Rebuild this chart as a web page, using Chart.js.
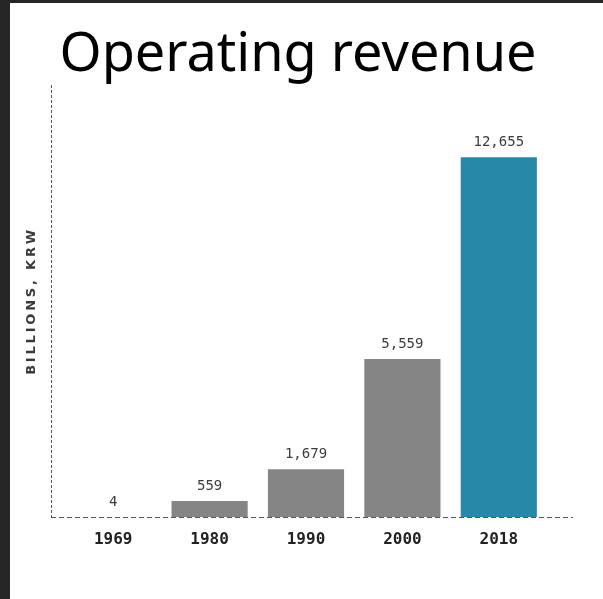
<!DOCTYPE html>
<html>
<head>
<meta charset="utf-8">
<script src="https://cdn.jsdelivr.net/npm/chart.js@4.4.1/dist/chart.umd.min.js"></script>
<style>
  html, body { margin: 0; padding: 0; background: #262626; }
  #frame {
    position: absolute; left: 10px; top: 3px;
    width: 593px; height: 596px; background: #fff;
  }
  #title {
    position: absolute; left: 0; width: 576px; top: 20px;
    text-align: center; font-family: "Noto Sans", sans-serif;
    font-size: 54px; line-height: 1; color: #000;
  }
  #wrap { position: absolute; left: 0; top: 0; width: 593px; height: 596px; }
</style>
</head>
<body>
<div id="frame">
  <div id="wrap"><canvas id="revenue"></canvas></div>
  <div id="title">Operating revenue</div>
</div>
<script>
const years = ['1969', '1980', '1990', '2000', '2018'];
const revenue = [4, 559, 1679, 5559, 12655];
const barColors = ['#858585', '#858585', '#858585', '#858585', '#2789a7'];
const axisTitle = 'BILLIONS, KRW';

// dashed axis lines, the rotated unit label and the value labels over each bar
const decorations = {
  id: 'decorations',
  beforeDatasetsDraw(chart) {
    const { ctx, chartArea: a } = chart;
    ctx.save();
    ctx.strokeStyle = '#555';
    ctx.lineWidth = 1;
    ctx.setLineDash([3, 2]);
    ctx.beginPath();
    ctx.moveTo(a.left - 13.5, a.top);
    ctx.lineTo(a.left - 13.5, a.bottom);
    ctx.stroke();
    ctx.setLineDash([5, 3]);
    ctx.beginPath();
    ctx.moveTo(a.left - 14, a.bottom + 0.5);
    ctx.lineTo(a.right + 26, a.bottom + 0.5);
    ctx.stroke();

    ctx.translate(a.left - 33, (a.top + a.bottom) / 2);
    ctx.rotate(-Math.PI / 2);
    ctx.font = '600 13px "DejaVu Sans"';
    ctx.letterSpacing = '2.8px';
    ctx.fillStyle = '#3a3a3a';
    ctx.textAlign = 'center';
    ctx.textBaseline = 'middle';
    ctx.fillText(axisTitle, 0, 0);
    ctx.restore();
  },
  afterDatasetsDraw(chart) {
    const { ctx } = chart;
    const meta = chart.getDatasetMeta(0);
    ctx.save();
    ctx.font = '14px "DejaVu Sans Mono"';
    ctx.fillStyle = '#3c3c3c';
    ctx.textAlign = 'center';
    ctx.textBaseline = 'bottom';
    meta.data.forEach((bar, i) => {
      ctx.fillText(revenue[i].toLocaleString('en-US'), bar.x, bar.y - 8);
    });
    ctx.restore();
  }
};

new Chart(document.getElementById('revenue'), {
  type: 'bar',
  data: {
    labels: years,
    datasets: [{
      data: revenue,
      backgroundColor: barColors,
      borderWidth: 0,
      barPercentage: 0.79,
      categoryPercentage: 1
    }]
  },
  options: {
    responsive: true,
    maintainAspectRatio: false,
    animation: false,
    layout: { padding: { left: 55, right: 56, top: 82, bottom: 42 } },
    plugins: {
      legend: { display: false },
      tooltip: { enabled: false }
    },
    scales: {
      x: {
        grid: { display: false, drawTicks: false },
        border: { display: false },
        ticks: {
          padding: 13,
          color: '#222',
          font: { family: '"DejaVu Sans Mono"', size: 16, weight: 'bold' }
        },
        afterFit(scale) { scale.height = 40; }
      },
      y: {
        display: false,
        min: 0,
        max: 15200
      }
    }
  },
  plugins: [decorations]
});
</script>
</body>
</html>
